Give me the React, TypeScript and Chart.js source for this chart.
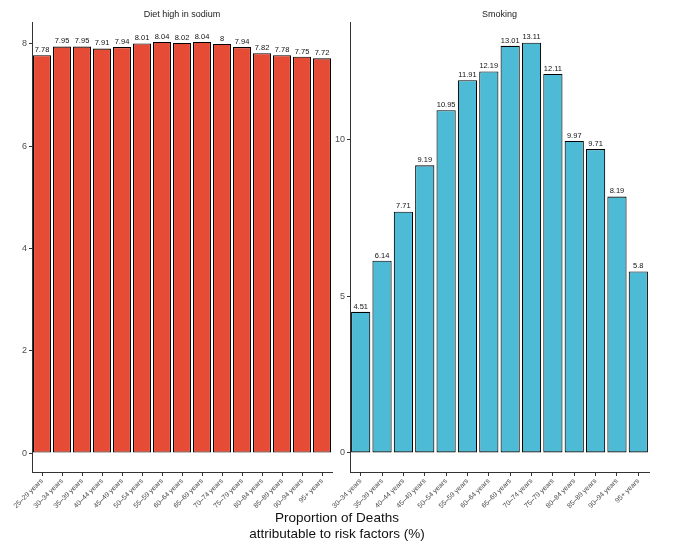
import { useEffect, useRef } from "react"
import { Chart, registerables } from "chart.js"

Chart.register(...registerables)

const sodiumAges = [
  "25–29 years", "30–34 years", "35–39 years", "40–44 years", "45–49 years",
  "50–54 years", "55–59 years", "60–64 years", "65–69 years", "70–74 years",
  "75–79 years", "80–84 years", "85–89 years", "90–94 years", "95+ years",
]
const sodiumValues = [7.78, 7.95, 7.95, 7.91, 7.94, 8.01, 8.04, 8.02, 8.04, 8, 7.94, 7.82, 7.78, 7.75, 7.72]
const sodiumTicks = [0, 2, 4, 6, 8]

const smokingAges = [
  "30–34 years", "35–39 years", "40–44 years", "45–49 years", "50–54 years",
  "55–59 years", "60–64 years", "65–69 years", "70–74 years", "75–79 years",
  "80–84 years", "85–89 years", "90–94 years", "95+ years",
]
const smokingValues = [4.51, 6.14, 7.71, 9.19, 10.95, 11.91, 12.19, 13.01, 13.11, 12.11, 9.97, 9.71, 8.19, 5.8]
const smokingTicks = [0, 5, 10]

const FONT = "'Liberation Sans', Arial, sans-serif"
const AXIS = "#333333"
const TEXT = "#4d4d4d"

// value labels on top of each bar
const valueLabels = {
  id: "valueLabels",
  afterDatasetsDraw: (chart: Chart) => {
    const ctx = chart.ctx
    const meta = chart.getDatasetMeta(0)
    const values = chart.data.datasets[0].data as number[]
    ctx.save()
    ctx.font = `7.5px ${FONT}`
    ctx.fillStyle = "#111111"
    ctx.textAlign = "center"
    ctx.textBaseline = "bottom"
    meta.data.forEach((bar: any, i) => {
      ctx.fillText(String(values[i]), bar.x, bar.y - 1.5)
    })
    ctx.restore()
  },
}

// facet strip title, centred over the plot area
const panelTitle = {
  id: "panelTitle",
  afterDraw: (chart: Chart, _args: any, opts: any) => {
    const ctx = chart.ctx
    const area = chart.chartArea
    ctx.save()
    ctx.font = `9px ${FONT}`
    ctx.fillStyle = "#1a1a1a"
    ctx.textAlign = "center"
    ctx.textBaseline = "middle"
    ctx.fillText(opts.text, (area.left + area.right) / 2, 15)
    ctx.restore()
  },
}

interface PanelProps {
  title: string
  labels: string[]
  values: number[]
  ticks: number[]
  color: string
  yMin: number
  yMax: number
  axisWidth: number
  padRight: number
  left: number
  width: number
}

function Panel({ title, labels, values, ticks, color, yMin, yMax, axisWidth, padRight, left, width }: PanelProps) {
  const chartRef = useRef<HTMLCanvasElement>(null)
  const chartInstance = useRef<Chart | null>(null)

  useEffect(() => {
    if (!chartRef.current) return
    if (chartInstance.current) chartInstance.current.destroy()

    chartInstance.current = new Chart(chartRef.current, {
      type: "bar",
      data: {
        labels,
        datasets: [{
          data: values,
          backgroundColor: color,
          borderColor: "#000000",
          borderWidth: 1.1,
          borderSkipped: false,
          barPercentage: 0.9,
          categoryPercentage: 1,
        }],
      },
      options: {
        responsive: false,
        animation: false,
        layout: { padding: { top: 22, right: padRight, left: 0, bottom: 0 } },
        plugins: {
          legend: { display: false },
          tooltip: { enabled: false },
          panelTitle: { text: title },
        },
        scales: {
          x: {
            grid: { display: true, drawOnChartArea: false, drawTicks: true, tickLength: 4, offset: false, color: AXIS },
            border: { display: true, color: AXIS, width: 1 },
            ticks: {
              autoSkip: false,
              minRotation: 45,
              maxRotation: 45,
              padding: 1,
              color: TEXT,
              font: { family: FONT, size: 7 },
            },
            afterFit: (scale: any) => { scale.height = 43 },
          },
          y: {
            min: yMin,
            max: yMax,
            grid: { display: true, drawOnChartArea: false, drawTicks: true, tickLength: 3, color: AXIS },
            border: { display: true, color: AXIS, width: 1 },
            ticks: {
              padding: 2,
              color: TEXT,
              font: { family: FONT, size: 9 },
            },
            afterBuildTicks: (scale: any) => { scale.ticks = ticks.map(v => ({ value: v })) },
            afterFit: (scale: any) => { scale.width = axisWidth },
          },
        },
      },
      plugins: [valueLabels, panelTitle],
    } as any)

    return () => {
      if (chartInstance.current) {
        chartInstance.current.destroy()
        chartInstance.current = null
      }
    }
  }, [])

  return (
    <canvas
      ref={chartRef}
      width={width}
      height={515}
      style={{ position: "absolute", left, top: 0, width, height: 515 }}
    />
  )
}

export default function App() {
  return (
    <div style={{ position: "fixed", left: 0, top: 0, width: 674, height: 560, background: "#ffffff", overflow: "hidden" }}>
      <Panel
        title="Diet high in sodium"
        labels={sodiumAges}
        values={sodiumValues}
        ticks={sodiumTicks}
        color="#E64B35"
        yMin={-0.37}
        yMax={8.43}
        axisWidth={32}
        padRight={5}
        left={0}
        width={337}
      />
      <Panel
        title="Smoking"
        labels={smokingAges}
        values={smokingValues}
        ticks={smokingTicks}
        color="#4DBBD5"
        yMin={-0.61}
        yMax={13.77}
        axisWidth={30}
        padRight={25}
        left={320}
        width={354}
      />
      <div
        style={{
          position: "absolute",
          left: 0,
          width: 674,
          top: 510,
          textAlign: "center",
          fontFamily: FONT,
          fontSize: 13.5,
          lineHeight: "16px",
          color: "#111111",
        }}
      >
        Proportion of Deaths<br />attributable to risk factors (%)
      </div>
    </div>
  )
}
